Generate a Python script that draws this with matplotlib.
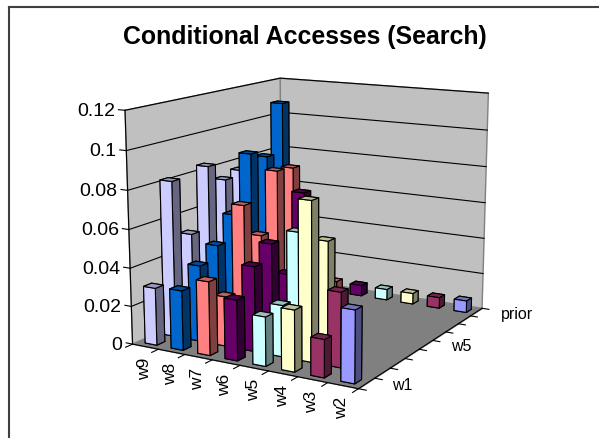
import numpy as np
import matplotlib
matplotlib.use('Agg')
import matplotlib.pyplot as plt
from matplotlib.colors import to_rgb
from mpl_toolkits.mplot3d import proj3d
from mpl_toolkits.mplot3d.art3d import Poly3DCollection

plt.rcParams['font.family'] = ['Liberation Sans', 'DejaVu Sans']

# Data: one list per word column, values by conditioning row (w1, w2, ... then prior last)
columns = ['w9', 'w8', 'w7', 'w6', 'w5', 'w4', 'w3', 'w2']
rows = ['w1', 'w2', 'w3', 'w4', 'w5', 'w6', 'w7', 'w8', 'prior']
w9 = [0.030, 0.082, 0.051, 0.0842, 0.0742, 0.0766, 0.050, 0.040, 0.006]
w8 = [0.031, 0.040, 0.047, 0.060, 0.0898, 0.0857, 0.1126, 0, 0.006]
w7 = [0.038, 0.026, 0.070, 0.0508, 0.0822, 0.0811, 0, 0, 0.006]
w6 = [0.031, 0.044, 0.052, 0.0322, 0.0722, 0, 0, 0, 0.006]
w5 = [0.025, 0.0265, 0.060, 0.035, 0, 0, 0, 0, 0.006]
w4 = [0.031, 0.081, 0.0575, 0, 0, 0, 0, 0, 0.006]
w3 = [0.019, 0.038, 0, 0, 0, 0, 0, 0, 0.006]
w2 = [0.036, 0, 0, 0, 0, 0, 0, 0, 0.0065]
values = [w9, w8, w7, w6, w5, w4, w3, w2]
colors = ['#CCCCFF', '#0066CC', '#FF8080', '#660066', '#CCFFFF', '#FFFFCC', '#993366', '#9999FF']
zticks = [0, 0.02, 0.04, 0.06, 0.08, 0.1, 0.12]
zlabels = ['0', '0.02', '0.04', '0.06', '0.08', '0.1', '0.12']
row_labels = {0: 'w1', 4: 'w5', 8: 'prior'}

W, H = 599, 439
fig = plt.figure(figsize=(W / 100, H / 100), dpi=100)

# view found by fitting the wall corners
size, cx, cy = 427.11, 309.03, 222.32
ax = fig.add_axes([(cx - size / 2) / W, (H - cy - size / 2) / H, size / W, size / H],
                  projection='3d', computed_zorder=False)
ax.set_xlim(0, 8, view_margin=0)
ax.set_ylim(0, 9, view_margin=0)
ax.set_zlim(0, 0.12, view_margin=0)
ax.set_box_aspect((3.142, 3.532, 2.897))
ax.set_proj_type('persp', focal_length=0.5762)
ax.view_init(elev=12.967, azim=-60.227)
ax.set_axis_off()
ax.patch.set_alpha(0)
ax.apply_aspect()
M = ax.get_proj()

def label(x, y, z, s, dx=0, dy=0, **kw):
    # put a flat text at the projected spot of a 3d point, offset in pixels
    px, py, _ = proj3d.proj_transform(x, y, z, M)
    qx, qy = ax.transData.transform((px, py))
    fig.text((qx + dx) / W, (qy - dy) / H, s, **kw)

nx, ny, top = len(columns), len(rows), zticks[-1]

# walls and floor
left_wall = [(0, 0, 0), (0, ny, 0), (0, ny, top), (0, 0, top)]
back_wall = [(0, ny, 0), (nx, ny, 0), (nx, ny, top), (0, ny, top)]
floor = [(0, 0, 0), (nx, 0, 0), (nx, ny, 0), (0, ny, 0)]
ax.add_collection3d(Poly3DCollection([left_wall, back_wall], facecolor='#C0C0C0',
                                     edgecolor='#808080', linewidth=1, zorder=1))
ax.add_collection3d(Poly3DCollection([floor], facecolor='#808080', edgecolor='#808080',
                                     linewidth=0.5, zorder=2))

# gridlines, axis lines, ticks
for z, lab in zip(zticks, zlabels):
    if z > 0:
        ax.plot([0, 0, nx], [0, ny, ny], [z, z, z], color='black', lw=0.8, zorder=3)
    ax.plot([-0.25, 0], [0, 0], [z, z], color='black', lw=0.8, zorder=3)
    label(0, 0, z, lab, dx=-10, dy=0, ha='right', va='center', fontsize=14)
ax.plot([0, 0], [0, 0], [0, top], color='black', lw=0.8, zorder=3)
ax.plot([0, nx, nx], [0, 0, ny], [0, 0, 0], color='black', lw=0.8, zorder=3)
for i in range(nx + 1):
    ax.plot([i, i], [0, -0.35], [0, 0], color='black', lw=0.8, zorder=3)
for j in range(ny + 1):
    ax.plot([nx, nx + 0.25], [j, j], [0, 0], color='black', lw=0.8, zorder=3)
for i, lab in enumerate(columns):
    label(i + 0.5, 0, 0, lab, dx=-1, dy=10, rotation=90, ha='center', va='top', fontsize=12.5)
for j, lab in row_labels.items():
    label(nx, j + 0.5, 0, lab, dx=25, dy=1, ha='left', va='center', fontsize=11.5)

# bars, back to front
bw, bd = 0.45, 0.42
order = 10
for j in range(ny - 1, -1, -1):
    for i in range(nx):
        h = values[i][j]
        if h <= 0:
            continue
        c = np.array(to_rgb(colors[i]))
        # bottom, top, front, back, left, right
        faces = [c * 0.5, c * 0.75, c, c, c, c * 0.5]
        order += 1
        ax.bar3d(i + (1 - bw) / 2, j + (1 - bd) / 2, 0, bw, bd, h, color=faces, shade=False,
                 edgecolor='black', linewidth=0.8, zorder=order)

# chart frame and title
fig.add_artist(plt.Line2D([9 / W, 9 / W], [0, 1 - 8 / H], color='#404040', lw=1.5))
fig.add_artist(plt.Line2D([9 / W, 1], [1 - 8 / H, 1 - 8 / H], color='#404040', lw=1.5))
fig.text(305 / W, 1 - 37 / H, 'Conditional Accesses (Search)', ha='center', va='center',
         fontsize=17.9, fontweight='bold')

fig.savefig('out.png', dpi=100)
